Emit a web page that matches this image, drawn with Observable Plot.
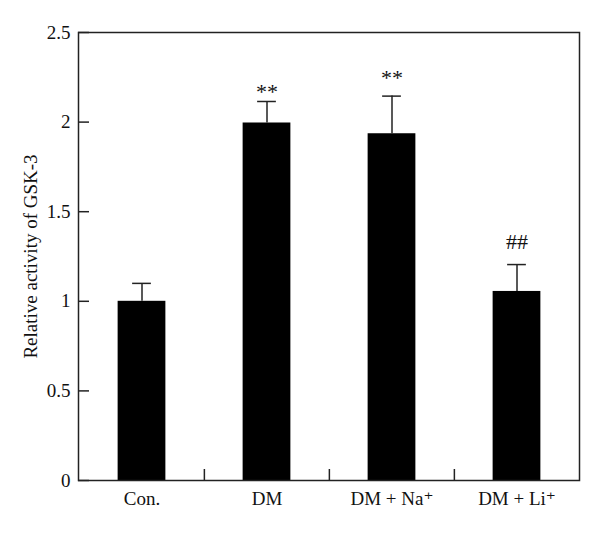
<!DOCTYPE html>
<html>
<head>
<meta charset="utf-8">
<script src="https://cdn.jsdelivr.net/npm/d3@7"></script>
<script src="https://cdn.jsdelivr.net/npm/@observablehq/plot@0.6"></script>
<style>
  html, body { margin: 0; padding: 0; background: #fff; }
</style>
</head>
<body>
<div id="chart"></div>
<script>
const categories = ["Con.", "DM", "DM + Na⁺", "DM + Li⁺"];
const means = [1.0, 1.995, 1.935, 1.055];
const errors = [0.10, 0.12, 0.21, 0.15];
const significance = ["", "**", "**", "##"];
const significanceY = [null, 2.17, 2.245, 1.33];
const yTicks = [0, 0.5, 1, 1.5, 2, 2.5];
const yLabel = "Relative activity of GSK-3";

const data = categories.map((c, i) => ({cat: c, mean: means[i], err: errors[i]}));
const notes = categories.map((c, i) => ({cat: c, text: significance[i], y: significanceY[i]})).filter(d => d.text);

const W = 600, H = 538, mL = 78, mR = 21, mT = 32, mB = 58;
const plotW = W - mL - mR, plotH = H - mT - mB;
const step = plotW / categories.length;
const barW = 48, capW = 19, tickLen = 11;

const chart = Plot.plot({
  width: W, height: H,
  marginLeft: mL, marginRight: mR, marginTop: mT, marginBottom: mB,
  style: {fontFamily: "'Liberation Serif', 'DejaVu Serif', serif", fontSize: "19px", color: "#111", background: "white"},
  x: {domain: categories, padding: 0, axis: null},
  y: {domain: [0, 2.5], axis: null},
  marks: [
    Plot.barY(data, {x: "cat", y: "mean", fill: "black", insetLeft: (step - barW) / 2, insetRight: (step - barW) / 2}),
    Plot.ruleX(data, {x: "cat", y1: "mean", y2: d => d.mean + d.err, stroke: "#222", strokeWidth: 1.5}),
    Plot.tickY(data, {x: "cat", y: d => d.mean + d.err, stroke: "#222", strokeWidth: 1.5, insetLeft: (step - capW) / 2, insetRight: (step - capW) / 2}),
    Plot.frame({stroke: "#222", strokeWidth: 1.5}),
    Plot.ruleY(yTicks, {y: d => d, stroke: "#222", strokeWidth: 1.5, insetRight: plotW - tickLen}),
    Plot.ruleX(categories.slice(1), {x: d => d, dx: -step / 2, stroke: "#222", strokeWidth: 1.5, insetTop: plotH - tickLen}),
    Plot.axisY({ticks: yTicks, tickSize: 0, tickPadding: 8, label: null, tickFormat: d => String(d), fontSize: 19}),
    Plot.axisX({tickSize: 0, tickPadding: 11, label: null, fontSize: 19}),
    Plot.text(notes, {x: "cat", y: "y", text: "text", fontSize: 22, lineAnchor: "middle"}),
    Plot.text([yLabel], {frameAnchor: "left", textAnchor: "middle", rotate: -90, dx: -48, fontSize: 19})
  ]
});
document.getElementById("chart").appendChild(chart);
</script>
</body>
</html>
